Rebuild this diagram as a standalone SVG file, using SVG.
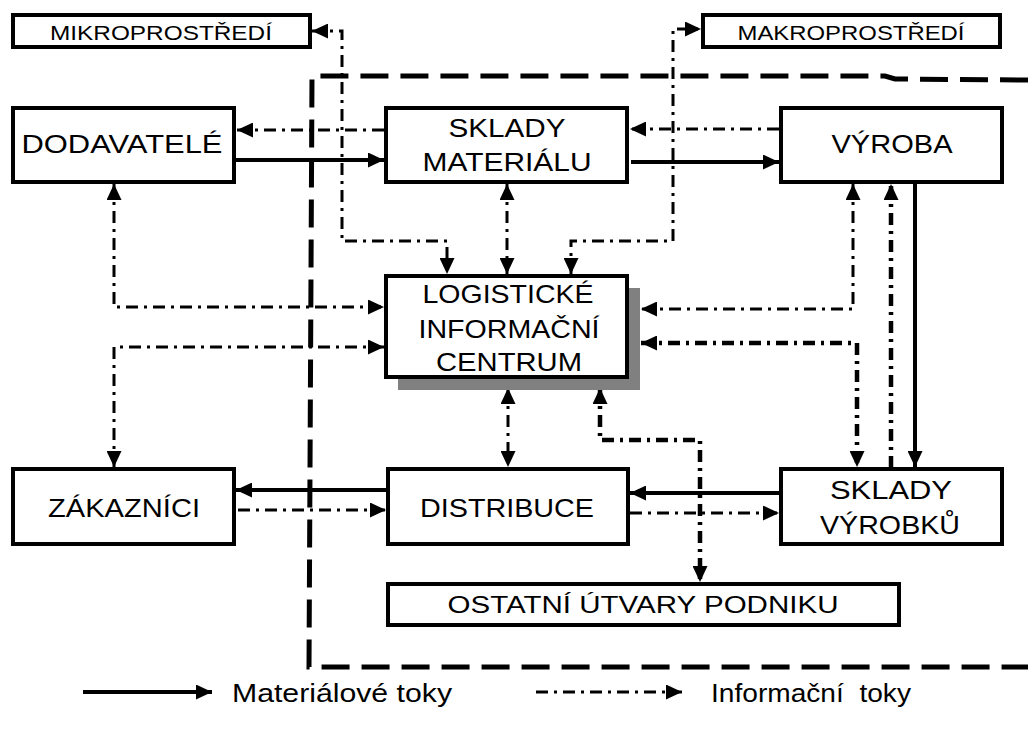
<svg xmlns="http://www.w3.org/2000/svg" width="1028" height="731" viewBox="0 0 1028 731">
<style>
.box{fill:#fff;stroke:#000;stroke-width:4}
.t{font-family:"Liberation Sans",Arial,sans-serif;font-size:26px;fill:#000;text-anchor:middle}
.s{font-size:20px}
.mat{fill:none;stroke:#000;stroke-width:4}
.inf{fill:none;stroke:#000;stroke-width:3;stroke-dasharray:12 6 3 6}
.infb{fill:none;stroke:#000;stroke-width:4.5;stroke-dasharray:12 6 3 6}
.bound{fill:none;stroke:#000;stroke-width:5;stroke-dasharray:28 12}
</style>
<defs>
<marker id="a" markerUnits="userSpaceOnUse" markerWidth="16" markerHeight="15" refX="16" refY="7.5" orient="auto-start-reverse"><path d="M0,0 L16,7.5 L0,15 z" fill="#000"/></marker>
</defs>
<g id="boundary"><path class="bound" d="M1028 80 L895 79 L885 76 L312 76 L309 667 L1028 667"/></g>
<g id="connectors">
<path class="mat" d="M236 160 H384" marker-end="url(#a)"/>
<path class="inf" d="M384 130 H237" marker-end="url(#a)"/>
<path class="mat" d="M631 162 H779" marker-end="url(#a)"/>
<path class="inf" d="M779 129 H630" marker-end="url(#a)"/>
<path class="inf" d="M312 31 H342 V241 H447 V274" marker-start="url(#a)" marker-end="url(#a)"/>
<path class="inf" d="M571 274 V241 H673 V29 H701" marker-start="url(#a)" marker-end="url(#a)"/>
<path class="inf" d="M507 184 V274" marker-start="url(#a)" marker-end="url(#a)"/>
<path class="inf" d="M114 184 V307 H384" marker-start="url(#a)" marker-end="url(#a)"/>
<path class="inf" d="M384 347 H114 V467" marker-start="url(#a)" marker-end="url(#a)"/>
<path class="inf" d="M853 184 V309 H641" marker-start="url(#a)" marker-end="url(#a)"/>
<path class="infb" d="M641 343 H857 V467" marker-start="url(#a)" marker-end="url(#a)"/>
<path class="infb" d="M891 468 V184" marker-end="url(#a)"/>
<path class="mat" d="M915 184 V467" marker-end="url(#a)"/>
<path class="mat" d="M779 493 H630" marker-end="url(#a)"/>
<path class="inf" d="M630 513 H779" marker-end="url(#a)"/>
<path class="mat" d="M387 490 H236" marker-end="url(#a)"/>
<path class="inf" d="M238 510 H386" marker-end="url(#a)"/>
<path class="inf" d="M508 388 V467" marker-start="url(#a)" marker-end="url(#a)"/>
<path class="infb" d="M600 388 V440 H700 V582" marker-start="url(#a)" marker-end="url(#a)"/>
</g>
<g id="mikro"><rect class="box" x="13" y="15" width="297" height="32"/><text class="t s" x="161" y="40" textLength="222" lengthAdjust="spacingAndGlyphs">MIKROPROSTŘEDÍ</text></g>
<g id="makro"><rect class="box" x="703" y="15" width="297" height="32"/><text class="t s" x="851" y="40" textLength="227" lengthAdjust="spacingAndGlyphs">MAKROPROSTŘEDÍ</text></g>
<g id="dodavatele"><rect class="box" x="13" y="108" width="221" height="74"/><text class="t" x="122" y="153" textLength="201" lengthAdjust="spacingAndGlyphs">DODAVATELÉ</text></g>
<g id="sklady-materialu"><rect class="box" x="386" y="108" width="241" height="74"/><text class="t" x="507" y="137" textLength="117" lengthAdjust="spacingAndGlyphs">SKLADY</text><text class="t" x="507" y="171" textLength="169" lengthAdjust="spacingAndGlyphs">MATERIÁLU</text></g>
<g id="vyroba"><rect class="box" x="781" y="108" width="221" height="74"/><text class="t" x="892" y="153" textLength="121" lengthAdjust="spacingAndGlyphs">VÝROBA</text></g>
<g id="lic"><rect x="398" y="288" width="242" height="102" fill="#808080"/><rect class="box" x="386" y="276" width="241" height="101"/><text class="t" x="508" y="303" textLength="171" lengthAdjust="spacingAndGlyphs">LOGISTICKÉ</text><text class="t" x="509" y="338" textLength="181" lengthAdjust="spacingAndGlyphs">INFORMAČNÍ</text><text class="t" x="509" y="371" textLength="146" lengthAdjust="spacingAndGlyphs">CENTRUM</text></g>
<g id="zakaznici"><rect class="box" x="13" y="469" width="221" height="75"/><text class="t" x="124" y="517" textLength="152" lengthAdjust="spacingAndGlyphs">ZÁKAZNÍCI</text></g>
<g id="distribuce"><rect class="box" x="388" y="469" width="240" height="75"/><text class="t" x="507" y="517" textLength="174" lengthAdjust="spacingAndGlyphs">DISTRIBUCE</text></g>
<g id="sklady-vyrobku"><rect class="box" x="781" y="469" width="221" height="75"/><text class="t" x="891" y="499" textLength="122" lengthAdjust="spacingAndGlyphs">SKLADY</text><text class="t" x="890" y="534" textLength="140" lengthAdjust="spacingAndGlyphs">VÝROBKŮ</text></g>
<g id="ostatni"><rect class="box" x="388" y="584" width="511" height="41"/><text class="t" x="643" y="613" style="font-size:23px" textLength="391" lengthAdjust="spacingAndGlyphs">OSTATNÍ ÚTVARY PODNIKU</text></g>
<g id="legend">
<path class="mat" d="M83 692 H212" marker-end="url(#a)"/>
<text class="t" x="232" y="702" style="font-size:25px;text-anchor:start" textLength="220" lengthAdjust="spacingAndGlyphs">Materiálové toky</text>
<path class="inf" d="M536 692 H682" marker-end="url(#a)"/>
<text class="t" x="711" y="702" style="font-size:25px;text-anchor:start;white-space:pre" textLength="200" lengthAdjust="spacingAndGlyphs">Informační  toky</text>
</g>
</svg>
